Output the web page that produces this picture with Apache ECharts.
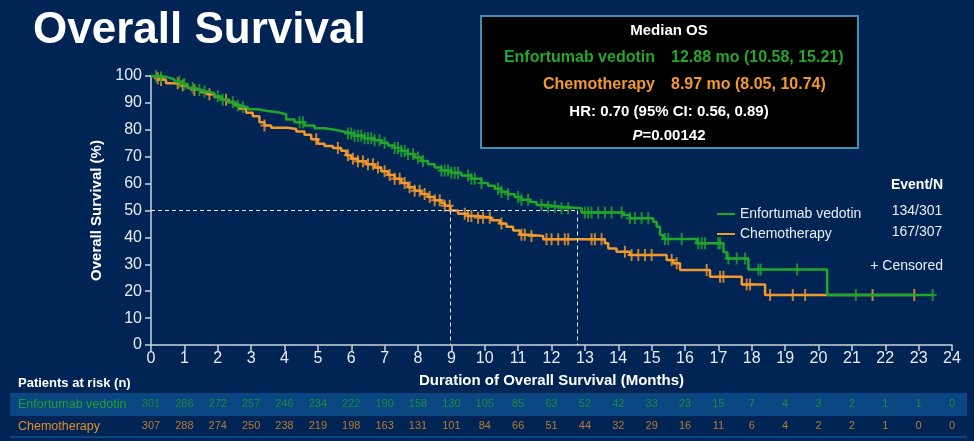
<!DOCTYPE html>
<html>
<head>
<meta charset="utf-8">
<script src="https://cdn.jsdelivr.net/npm/echarts@6/dist/echarts.min.js"></script>
<style>
  html, body { margin: 0; padding: 0; background: #002554; }
  #chart { width: 974px; height: 441px; }
</style>
</head>
<body>
<div id="chart"></div>
<script>
// Kaplan-Meier points: [month, survival %]
const evCurve = [[0,100],[0.3,99.5],[0.5,98.8],[0.7,97.9],[0.9,97],[1.1,95.5],[1.3,94.8],[1.5,94.2],[1.7,93.6],[1.9,92.5],[2.1,91.2],[2.3,90.2],[2.5,89],[2.7,88.4],[2.9,87.6],[3.2,87],[3.5,86.5],[3.8,85.8],[4.05,83.8],[4.3,82.8],[4.6,81.6],[4.9,80.6],[5.2,80],[5.5,79.3],[5.8,78.6],[6.1,77.8],[6.4,76.9],[6.7,76.1],[6.9,75.2],[7.1,74.2],[7.3,73.2],[7.5,72.1],[7.7,71],[7.9,69.7],[8.1,68.4],[8.3,67.2],[8.5,66],[8.7,64.9],[9.0,64],[9.3,63],[9.6,61.8],[9.9,60.2],[10.1,59.2],[10.3,58.1],[10.5,57],[10.7,56],[10.9,55],[11.1,54],[11.35,53.2],[11.55,52],[11.9,51.4],[12.3,50.8],[12.9,49.3],[14.15,48.3],[14.35,47.1],[15.05,45.8],[15.15,44],[15.25,40.9],[15.35,39.4],[16.35,37.8],[17.15,34.6],[17.25,32.2],[17.9,28.1],[20.26,18.6],[23.45,18.6]];
const chemoCurve = [[0,100],[0.15,99.2],[0.25,98.5],[0.45,97.3],[0.9,96.5],[1.1,95.5],[1.3,94.8],[1.5,94],[1.7,93.2],[1.9,92.2],[2.1,91.2],[2.3,90.3],[2.5,89.3],[2.65,87.8],[2.85,86.3],[3.05,85],[3.25,82.8],[3.4,81.6],[3.6,80.8],[4.1,80.3],[4.35,79.4],[4.6,78.2],[4.8,76.5],[5.0,74.8],[5.2,74],[5.45,73.2],[5.7,72.2],[5.85,70.5],[6.0,69.2],[6.2,68.3],[6.45,67.2],[6.7,66],[6.9,64.6],[7.1,63.2],[7.3,61.8],[7.5,60.2],[7.7,58.6],[7.9,57.3],[8.1,56.1],[8.3,55],[8.5,53.8],[8.7,52.8],[8.8,51.8],[8.97,50],[9.2,48.8],[9.5,48],[9.8,47.3],[10.2,46.4],[10.45,45.2],[10.65,44],[10.85,42.6],[11.05,41],[11.3,40.5],[11.75,39.3],[13.6,37.8],[13.7,35.9],[13.95,34.7],[14.35,33.5],[15.45,31.6],[15.65,30.4],[15.85,27.9],[16.75,25.4],[17.7,22.5],[18.4,18.6],[22.9,18.6]];

// censoring times (months)
const evCensor = [0.15,0.3,0.85,1.0,1.25,1.45,1.6,2.0,2.15,2.45,2.6,2.75,4.45,4.55,5.9,6.0,6.1,6.2,6.3,6.4,6.5,6.6,6.7,6.85,7.0,7.3,7.4,7.5,7.6,7.7,7.85,8.0,8.15,8.7,8.8,8.9,9.0,9.1,9.2,9.5,9.6,9.7,9.9,10.4,10.5,10.7,11.0,11.1,11.3,11.7,11.9,12.1,12.3,12.5,13.0,13.1,13.2,13.4,13.6,13.8,14.1,14.35,14.5,14.7,14.9,15.4,15.5,15.9,16.4,16.5,16.6,17.0,17.05,17.3,17.55,17.8,18.2,18.27,19.36,21.12,23.42];
const chemoCensor = [0.2,0.3,0.8,0.95,1.3,1.75,2.25,3.4,4.95,5.6,5.9,6.05,6.2,6.35,6.5,6.65,6.8,7.0,7.15,7.3,7.45,7.6,7.75,7.9,8.05,8.2,8.35,8.5,8.65,8.8,8.95,9.4,9.5,9.6,9.8,9.95,10.15,10.5,11.1,11.2,11.4,11.85,12.0,12.2,12.4,12.5,13.2,13.3,13.5,14.2,14.4,14.6,14.8,15.0,15.6,15.75,16.65,17.05,17.15,17.85,17.95,18.55,19.23,19.6,21.62,22.87];

// patients at risk at months 0..24
const riskMonths = [0,1,2,3,4,5,6,7,8,9,10,11,12,13,14,15,16,17,18,19,20,21,22,23,24];
const evRisk = [301,286,272,257,246,234,222,190,158,130,105,85,63,52,42,33,23,15,7,4,3,2,1,1,0];
const chemoRisk = [307,288,274,250,238,219,198,163,131,101,84,66,51,44,32,29,16,11,6,4,2,2,1,0,0];

// median dashed guide lines as drawn
const medianLineMonths = [8.97, 12.77];

const GREEN = "#22a62b";
const ORANGE = "#f2992e";
const FONT = "'Liberation Sans', Arial, sans-serif";
const plusIcon = "path://M3,0h2v5h3v2h-3v5h-2v-5h-3v-2h3z";

function survAt(curve, t) {
    let v = curve[0][1];
    for (const p of curve) {
        if (p[0] <= t) v = p[1];
    }
    return v;
}

const chart = echarts.init(document.getElementById("chart"));

const options = {
    animation: false,
    backgroundColor: "#002554",
    textStyle: { fontFamily: FONT },
    grid: [
        { left: 151, right: 22, top: 76, bottom: 96 },
        { left: 151, right: 22, top: 393, height: 44 }
    ],
    xAxis: [
        {
            type: "value", gridIndex: 0, min: 0, max: 24, interval: 1,
            name: "Duration of Overall Survival (Months)",
            nameLocation: "middle", nameGap: 28,
            nameTextStyle: { color: "#ffffff", fontWeight: "bold", fontSize: 15, fontFamily: FONT },
            axisLine: { lineStyle: { color: "#c9d2de", width: 1.5 } },
            axisTick: { length: 6, lineStyle: { color: "#c9d2de", width: 1.5 } },
            axisLabel: { color: "#e6ecf3", fontSize: 16, margin: 6, fontFamily: FONT },
            splitLine: { show: false }
        },
        { type: "value", gridIndex: 1, min: 0, max: 24, show: false }
    ],
    yAxis: [
        {
            type: "value", gridIndex: 0, min: 0, max: 100, interval: 10,
            name: "Overall Survival (%)",
            nameLocation: "middle", nameGap: 45,
            nameTextStyle: { color: "#ffffff", fontWeight: "bold", fontSize: 15, fontFamily: FONT },
            axisLine: { show: true, lineStyle: { color: "#c9d2de", width: 1.5 } },
            axisTick: { show: true, length: 6, lineStyle: { color: "#c9d2de", width: 1.5 } },
            axisLabel: { color: "#e6ecf3", fontSize: 16, margin: 9, fontFamily: FONT },
            splitLine: { show: false }
        },
        {
            type: "category", gridIndex: 1, show: false,
            data: ["Chemotherapy", "Enfortumab vedotin"]
        }
    ],
    legend: {
        orient: "vertical",
        left: 712, top: 202,
        itemWidth: 18, itemHeight: 2, itemGap: 6,
        icon: "rect",
        data: ["Enfortumab vedotin", "Chemotherapy"],
        textStyle: { color: "#e8eef5", fontSize: 14, fontFamily: FONT }
    },
    series: [
        {
            name: "Chemotherapy", type: "line", step: "end",
            data: chemoCurve, showSymbol: false, z: 2,
            lineStyle: { color: ORANGE, width: 2.5 }, itemStyle: { color: ORANGE }
        },
        {
            name: "Chemotherapy censored", type: "scatter", z: 3,
            symbol: plusIcon, symbolSize: [8, 12],
            itemStyle: { color: ORANGE },
            data: chemoCensor.map(t => [t, survAt(chemoCurve, t)])
        },
        {
            name: "Enfortumab vedotin", type: "line", step: "end",
            data: evCurve, showSymbol: false, z: 4,
            lineStyle: { color: GREEN, width: 2.5 }, itemStyle: { color: GREEN },
            markLine: {
                silent: true, symbol: "none", label: { show: false },
                lineStyle: { color: "#e6ecf3", type: [4, 3], width: 1 },
                data: [
                    [{ coord: [0, 50] }, { coord: [medianLineMonths[1], 50] }],
                    [{ coord: [medianLineMonths[0], 50] }, { coord: [medianLineMonths[0], 0] }],
                    [{ coord: [medianLineMonths[1], 50] }, { coord: [medianLineMonths[1], 0] }]
                ]
            }
        },
        {
            name: "Enfortumab vedotin censored", type: "scatter", z: 5,
            symbol: plusIcon, symbolSize: [8, 12],
            itemStyle: { color: GREEN },
            data: evCensor.map(t => [t, survAt(evCurve, t)])
        },
        {
            name: "EV at risk", type: "scatter", xAxisIndex: 1, yAxisIndex: 1,
            symbolSize: 1, itemStyle: { color: "rgba(0,0,0,0)" },
            label: { show: true, position: "inside", color: "#1f9e2a", fontSize: 11, fontFamily: FONT,
                     formatter: p => p.value[2] },
            data: riskMonths.map((m, i) => [m, "Enfortumab vedotin", evRisk[i]])
        },
        {
            name: "Chemo at risk", type: "scatter", xAxisIndex: 1, yAxisIndex: 1,
            symbolSize: 1, itemStyle: { color: "rgba(0,0,0,0)" },
            label: { show: true, position: "inside", color: "#e38d2b", fontSize: 11, fontFamily: FONT,
                     formatter: p => p.value[2] },
            data: riskMonths.map((m, i) => [m, "Chemotherapy", chemoRisk[i]])
        }
    ],
    graphic: [
        { type: "rect", z: -1, shape: { x: 10, y: 393, width: 957, height: 23 }, style: { fill: "#0a4782" } },
        { type: "rect", z: -1, shape: { x: 10, y: 436, width: 957, height: 2 }, style: { fill: "#0a4782" } },
        { type: "text", left: 33, top: 9, style: { text: "Overall Survival", fill: "#ffffff", font: "bold 44px " + FONT } },
        { type: "rect", shape: { x: 481, y: 16, width: 377, height: 132 },
          style: { fill: "#000000", stroke: "#3f8fb3", lineWidth: 2 } },
        { type: "text", x: 669, y: 31, style: { text: "Median OS", fill: "#ffffff", font: "bold 15px " + FONT, textAlign: "center", textVerticalAlign: "middle" } },
        { type: "text", x: 655, y: 58, style: { text: "Enfortumab vedotin", fill: GREEN, font: "bold 16px " + FONT, textAlign: "right", textVerticalAlign: "middle" } },
        { type: "text", x: 671, y: 58, style: { text: "12.88 mo (10.58, 15.21)", fill: GREEN, font: "bold 16px " + FONT, textAlign: "left", textVerticalAlign: "middle" } },
        { type: "text", x: 655, y: 85, style: { text: "Chemotherapy", fill: ORANGE, font: "bold 16px " + FONT, textAlign: "right", textVerticalAlign: "middle" } },
        { type: "text", x: 671, y: 85, style: { text: "8.97 mo (8.05, 10.74)", fill: ORANGE, font: "bold 16px " + FONT, textAlign: "left", textVerticalAlign: "middle" } },
        { type: "text", x: 669, y: 112, style: { text: "HR: 0.70 (95% CI: 0.56, 0.89)", fill: "#ffffff", font: "bold 15px " + FONT, textAlign: "center", textVerticalAlign: "middle" } },
        { type: "text", x: 669, y: 136, style: {
            text: "{i|P}{n|=0.00142}", textAlign: "center", textVerticalAlign: "middle",
            rich: {
                i: { fill: "#ffffff", font: "italic bold 15px " + FONT },
                n: { fill: "#ffffff", font: "bold 15px " + FONT }
            } } },
        { type: "text", x: 917, y: 185, style: { text: "Event/N", fill: "#ffffff", font: "bold 14px " + FONT, textAlign: "center", textVerticalAlign: "middle" } },
        { type: "text", x: 917, y: 211, style: { text: "134/301", fill: "#e8eef5", font: "14px " + FONT, textAlign: "center", textVerticalAlign: "middle" } },
        { type: "text", x: 917, y: 232, style: { text: "167/307", fill: "#e8eef5", font: "14px " + FONT, textAlign: "center", textVerticalAlign: "middle" } },
        { type: "text", x: 943, y: 266, style: { text: "+ Censored", fill: "#e8eef5", font: "14px " + FONT, textAlign: "right", textVerticalAlign: "middle" } },
        { type: "text", x: 18, y: 383, style: { text: "Patients at risk (n)", fill: "#ffffff", font: "bold 13px " + FONT, textVerticalAlign: "middle" } },
        { type: "text", x: 18, y: 405, style: { text: "Enfortumab vedotin", fill: "#1f9e2a", font: "12.5px " + FONT, textVerticalAlign: "middle" } },
        { type: "text", x: 18, y: 427, style: { text: "Chemotherapy", fill: "#e38d2b", font: "12.5px " + FONT, textVerticalAlign: "middle" } }
    ]
};

chart.setOption(options);
window.addEventListener("resize", () => chart.resize());
</script>
</body>
</html>
